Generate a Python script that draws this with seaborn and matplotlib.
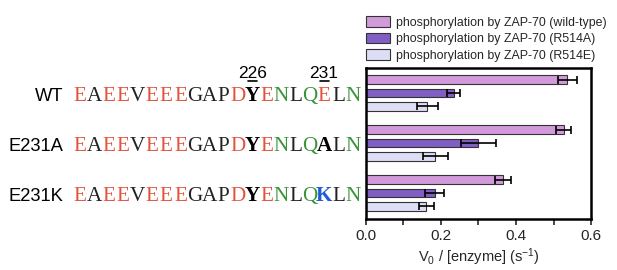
import numpy as np
import pandas as pd
import matplotlib
matplotlib.use("Agg")
import matplotlib.pyplot as plt
import matplotlib.transforms as mtransforms
import seaborn as sns

# ---- data ----
variants = ["WT", "E231A", "E231K"]
kinases = ["phosphorylation by ZAP-70 (wild-type)",
           "phosphorylation by ZAP-70 (R514A)",
           "phosphorylation by ZAP-70 (R514E)"]
v_wildtype = [0.537, 0.527, 0.365]
v_r514a = [0.234, 0.300, 0.183]
v_r514e = [0.164, 0.185, 0.161]
err_wildtype = [0.026, 0.020, 0.022]
err_r514a = [0.018, 0.046, 0.026]
err_r514e = [0.029, 0.034, 0.020]
sequences = ["EAEEVEEEGAPDYENLQELN",
             "EAEEVEEEGAPDYENLQALN",
             "EAEEVEEEGAPDYENLQKLN"]
xticks = [0.0, 0.2, 0.4, 0.6]
xlabel = r"V$_0$ / [enzyme] (s$^{-1}$)"
pos_labels = ["226", "231"]

# ---- style ----
sns.set_style("white")
plt.rcParams['font.family'] = ['Liberation Sans', 'DejaVu Sans']
plt.rcParams['mathtext.fontset'] = 'custom'
plt.rcParams['mathtext.rm'] = 'Liberation Sans'
plt.rcParams['mathtext.it'] = 'Liberation Sans'
colors = ["#DA8FE6", "#7A4DD4", "#D9D9FA"]

rows = []
for k, vals in zip(kinases, [v_wildtype, v_r514a, v_r514e]):
    for var, v in zip(variants, vals):
        rows.append({"variant": var, "kinase": k, "v": v})
df = pd.DataFrame(rows)
errs = [err_wildtype, err_r514a, err_r514e]

fig = plt.figure(figsize=(6.17, 2.70), dpi=100)
ax = fig.add_axes([0.593, 0.189, 0.365, 0.559])

sns.barplot(data=df, y="variant", x="v", hue="kinase", order=variants,
            hue_order=kinases, palette=colors, orient="h", errorbar=None,
            width=0.8, gap=0.36, edgecolor="#333333", linewidth=0.8,
            ax=ax, legend=True)

for cont, e in zip(ax.containers, errs):
    for bar, ee in zip(cont, e):
        yc = bar.get_y() + bar.get_height() / 2
        ax.errorbar(bar.get_width(), yc, xerr=ee, fmt="none", ecolor="black",
                    elinewidth=1.2, capsize=3.2, capthick=1.2, zorder=5)

ax.set_xlim(0, 0.6)
ax.set_ylim(2.52, -0.5)
ax.set_xticks(xticks)
ax.set_xticklabels([f"{t:.1f}" for t in xticks], fontsize=11)
ax.set_xticks([0.1, 0.3, 0.5], minor=True)
ax.tick_params(axis="x", which="both", direction="out", length=4, width=1.2,
               bottom=True, pad=3)
ax.set_yticks([])
ax.set_ylabel("")
ax.set_xlabel(xlabel, fontsize=10.5, labelpad=3)
for s in ax.spines.values():
    s.set_visible(True)
    s.set_linewidth(1.8)
    s.set_color("black")

handles, labels = ax.get_legend_handles_labels()
ax.legend(handles, labels, loc="upper left", bbox_to_anchor=(0.594, 0.94),
          bbox_transform=fig.transFigure, frameon=False, fontsize=8.9,
          handlelength=1.9, handleheight=0.95, handletextpad=0.45,
          labelspacing=0.32, borderpad=0, borderaxespad=0)

# ---- sequences ----
red = "#E4523C"
green = "#3A943A"
blue = "#1E5CD6"
black = "#222222"
cmap = {"E": red, "D": red, "N": green, "Q": green}
trans = mtransforms.blended_transform_factory(fig.transFigure, ax.transData)
x0 = 73 / 617
pitch = 14.35 / 617
base_off = 0.16
for i, (lab, seq) in enumerate(zip(variants, sequences)):
    fig.text(63 / 617, i + base_off, lab, transform=trans, ha="right",
             va="baseline", fontsize=13.2, color="black")
    for j, ch in enumerate(seq):
        color = cmap.get(ch, black)
        weight = "normal"
        if j == 12:
            weight = "bold"
            color = "black"
        if j == 17 and ch != "E":
            weight = "bold"
            color = blue if ch == "K" else "black"
        fig.text(x0 + (j + 0.5) * pitch, i + base_off, ch, transform=trans,
                 ha="center", va="baseline", fontsize=15.2,
                 family="Liberation Serif", fontweight=weight, color=color)

# position numbers with underlined middle digit
for idx, lab in zip([12, 17], pos_labels):
    xc = x0 + (idx + 0.5) * pitch
    yb = 1 - 78 / 270
    fig.text(xc, yb, lab, ha="center", va="baseline", fontsize=12.5,
             color="black")
    fig.add_artist(plt.Line2D([xc - 4.5 / 617, xc + 4.5 / 617],
                              [yb - 3 / 270, yb - 3 / 270],
                              transform=fig.transFigure, color="black",
                              linewidth=1.2))

fig.savefig("out.png", dpi=100)
